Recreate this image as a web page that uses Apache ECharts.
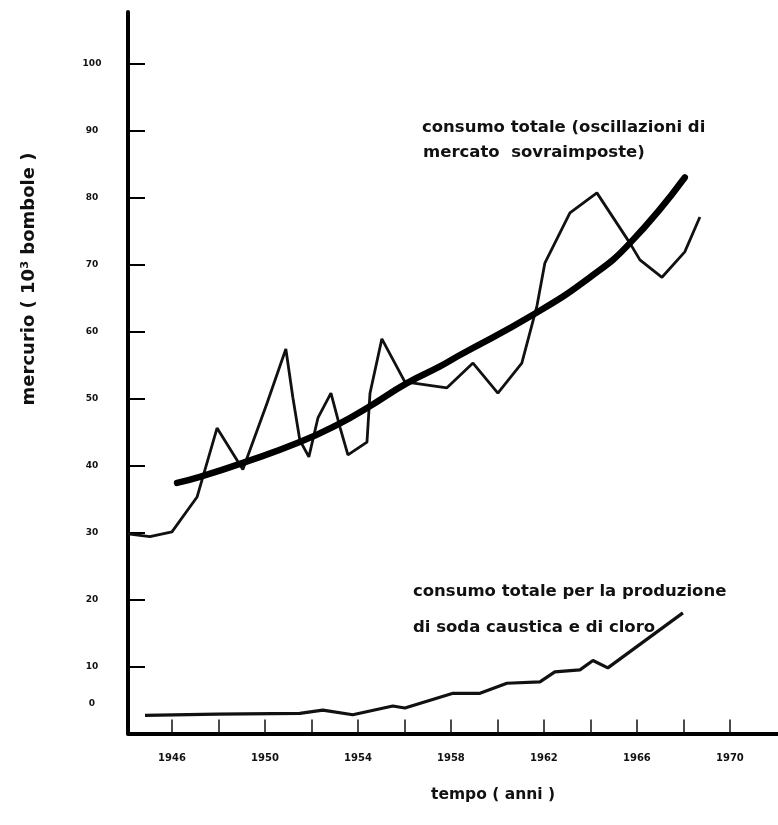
<!DOCTYPE html>
<html>
<head>
<meta charset="utf-8">
<script src="https://cdn.jsdelivr.net/npm/echarts@6/dist/echarts.min.js"></script>
<style>
  html, body { margin: 0; padding: 0; background: #fff; }
  #chart { width: 778px; height: 825px; }
</style>
</head>
<body>
<div id="chart"></div>
<script>
// Total mercury consumption, with market oscillations (thousand flasks)
const totalYears  = [1944.11, 1945.05, 1946.0, 1947.08, 1947.94, 1949.05, 1950.09, 1950.9, 1951.2, 1951.5,
                     1951.89, 1952.28, 1952.84, 1953.23, 1953.57, 1954.39, 1954.52, 1955.03, 1956.02, 1957.83,
                     1958.95, 1960.02, 1961.05, 1961.7, 1962.04, 1963.12, 1964.28, 1965.7, 1966.13, 1967.08,
                     1968.06, 1968.71];
const totalValues = [29.8, 29.4, 30.1, 35.3, 45.6, 39.4, 49.3, 57.4, 50.2, 43.8,
                     41.3, 47.1, 50.8, 45.7, 41.6, 43.5, 50.8, 58.9, 52.5, 51.6,
                     55.3, 50.8, 55.3, 63.8, 70.2, 77.7, 80.7, 73.2, 70.7, 68.1,
                     71.9, 77.1];

// Underlying trend of total consumption
const trendYears  = [1946.22, 1947.2, 1949.05, 1951.5, 1953.23, 1954.39, 1956.11, 1957.53, 1958.39,
                     1961.53, 1963.98, 1965.7, 1968.06];
const trendValues = [37.4, 38.3, 40.4, 43.5, 46.3, 48.6, 52.3, 54.8, 56.5,
                     62.5, 68.1, 73.2, 83.0];

// Consumption for caustic soda and chlorine production
const chlorYears  = [1944.84, 1947.94, 1951.5, 1952.49, 1953.78, 1955.5, 1956.02, 1958.09, 1959.25,
                     1960.41, 1961.83, 1962.47, 1963.55, 1964.11, 1964.75, 1967.98];
const chlorValues = [2.7, 2.9, 3.0, 3.5, 2.8, 4.1, 3.8, 6.0, 6.0,
                     7.5, 7.7, 9.2, 9.5, 10.9, 9.8, 18.0];

// Axis ticks and labels
const yearLabels = [1946, 1950, 1954, 1958, 1962, 1966, 1970];
const yearTicks  = [1946, 1948, 1950, 1952, 1954, 1956, 1958, 1960, 1962, 1964, 1966, 1968, 1970];
const valueTicks = [0, 10, 20, 30, 40, 50, 60, 70, 80, 90, 100];

const pairs = (xs, ys) => xs.map((x, i) => [x, ys[i]]);

const chart = echarts.init(document.getElementById('chart'), null, { renderer: 'canvas' });

const tickFontY = { fontFamily: 'DejaVu Sans', fontWeight: 'bold', fontSize: 9, color: '#111' };
const tickFontX = { fontFamily: 'DejaVu Sans', fontWeight: 'bold', fontSize: 10, color: '#111' };
const noteFont = 'bold 16.5px "DejaVu Sans"';

chart.setOption({
  backgroundColor: '#ffffff',
  animation: false,
  grid: { left: 128, right: 0, top: 12, bottom: 91.5 },
  xAxis: {
    type: 'value',
    min: 1944.11,
    max: 1972.07,
    splitLine: { show: false },
    axisLine: { show: true, lineStyle: { color: '#000', width: 4 } },
    axisTick: { show: true, inside: true, length: 14, customValues: yearTicks,
                lineStyle: { color: '#111', width: 1.5 } },
    axisLabel: { customValues: yearLabels, margin: 20, formatter: v => String(v), ...tickFontX }
  },
  yAxis: {
    type: 'value',
    min: 0,
    max: 107.7,
    splitLine: { show: false },
    axisLine: { show: true, lineStyle: { color: '#000', width: 4 } },
    axisTick: { show: true, inside: true, length: 17, customValues: valueTicks,
                lineStyle: { color: '#000', width: 2 } },
    axisLabel: {
      customValues: valueTicks,
      margin: 36,
      align: 'center',
      formatter: v => (v === 0 ? '{zero|0}' : String(v)),
      rich: { zero: { ...tickFontY, padding: [0, 0, 60, 0] } },
      ...tickFontY
    }
  },
  graphic: [
    { type: 'text', x: 29, y: 279, rotation: Math.PI / 2,
      style: { text: 'mercurio ( 10³ bombole )', font: 'bold 18px "DejaVu Sans"', fill: '#111',
               align: 'center', verticalAlign: 'middle' } },
    { type: 'text', x: 493, y: 795,
      style: { text: 'tempo ( anni )', font: 'bold 15.5px "DejaVu Sans"', fill: '#111',
               align: 'center', verticalAlign: 'middle' } },
    { type: 'text', x: 422, y: 128,
      style: { text: 'consumo totale (oscillazioni di', font: noteFont, fill: '#111',
               align: 'left', verticalAlign: 'middle' } },
    { type: 'text', x: 423, y: 153,
      style: { text: 'mercato  sovraimposte)', font: noteFont, fill: '#111',
               align: 'left', verticalAlign: 'middle' } },
    { type: 'text', x: 413, y: 592,
      style: { text: 'consumo totale per la produzione', font: noteFont, fill: '#111',
               align: 'left', verticalAlign: 'middle' } },
    { type: 'text', x: 413, y: 628,
      style: { text: 'di soda caustica e di cloro', font: noteFont, fill: '#111',
               align: 'left', verticalAlign: 'middle' } }
  ],
  series: [
    {
      name: 'consumo totale',
      type: 'line',
      data: pairs(totalYears, totalValues),
      symbol: 'none',
      lineStyle: { color: '#111', width: 2.8 },
      z: 3
    },
    {
      name: 'andamento',
      type: 'line',
      data: pairs(trendYears, trendValues),
      smooth: 0.5,
      symbol: 'none',
      lineStyle: { color: '#000', width: 6.5, cap: 'round' },
      z: 4
    },
    {
      name: 'soda caustica e cloro',
      type: 'line',
      data: pairs(chlorYears, chlorValues),
      symbol: 'none',
      lineStyle: { color: '#111', width: 3.2 },
      z: 3
    }
  ]
});
</script>
</body>
</html>
